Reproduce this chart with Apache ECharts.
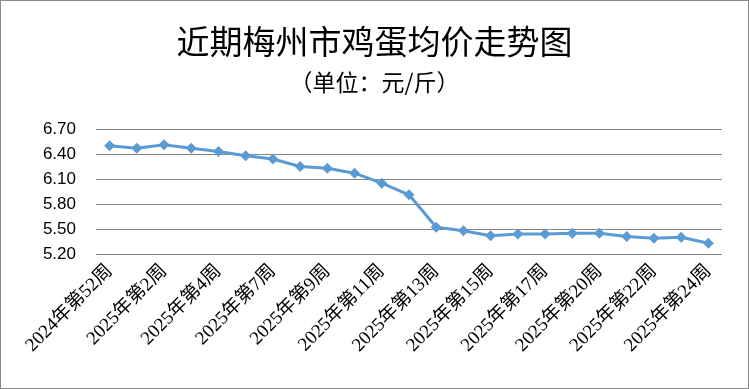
<!DOCTYPE html>
<html><head><meta charset="utf-8">
<script src="https://cdn.jsdelivr.net/npm/echarts@6/dist/echarts.min.js"></script>
<style>html,body{margin:0;padding:0;background:#fff}#c{width:749px;height:389px;box-sizing:border-box;border:1px solid #8a8a8a}</style>
</head><body><div id="c"></div>
<script>
const categories = ['2024年第52周','2025年第1周','2025年第2周','2025年第3周','2025年第4周','2025年第5周','2025年第7周','2025年第8周','2025年第9周','2025年第10周','2025年第11周','2025年第12周','2025年第13周','2025年第14周','2025年第15周','2025年第16周','2025年第17周','2025年第18周','2025年第20周','2025年第21周','2025年第22周','2025年第23周','2025年第24周'];
const prices = [6.50,6.47,6.51,6.47,6.43,6.38,6.34,6.25,6.23,6.17,6.05,5.91,5.52,5.48,5.42,5.44,5.44,5.45,5.45,5.41,5.39,5.40,5.33];
const yTicks = [5.20,5.50,5.80,6.10,6.40,6.70];
const chart = echarts.init(document.getElementById('c'));
chart.setOption({
  animation:false,
  backgroundColor:'#fff',
  title:[
    {text:'近期梅州市鸡蛋均价走势图',left:'center',top:19,textStyle:{fontFamily:'Noto Sans CJK SC',fontWeight:'normal',fontSize:33,color:'#000'}},
    {text:'（单位：元/斤）',left:'center',top:65,textStyle:{fontFamily:'Noto Sans CJK SC',fontWeight:'normal',fontSize:23,color:'#000'}}
  ],
  grid:{left:95,right:26,top:128,bottom:134},
  xAxis:{type:'category',data:categories,boundaryGap:true,
    axisLine:{show:false},axisTick:{show:false},
    axisLabel:{interval:1,rotate:45,fontFamily:'Liberation Serif, Noto Sans CJK SC',fontSize:19,color:'#000',margin:14}},
  yAxis:{type:'value',min:yTicks[0],max:yTicks[yTicks.length-1],interval:0.3,
    axisLine:{show:false},axisTick:{show:false},
    splitLine:{lineStyle:{color:'#868686',width:1}},
    axisLabel:{formatter:v=>v.toFixed(2),fontFamily:'Liberation Sans',fontSize:17,color:'#000',margin:20}},
  series:[{type:'line',data:prices,symbol:'diamond',symbolSize:11,
    lineStyle:{color:'#5b9bd5',width:3},itemStyle:{color:'#5b9bd5'}}]
});
</script></body></html>
